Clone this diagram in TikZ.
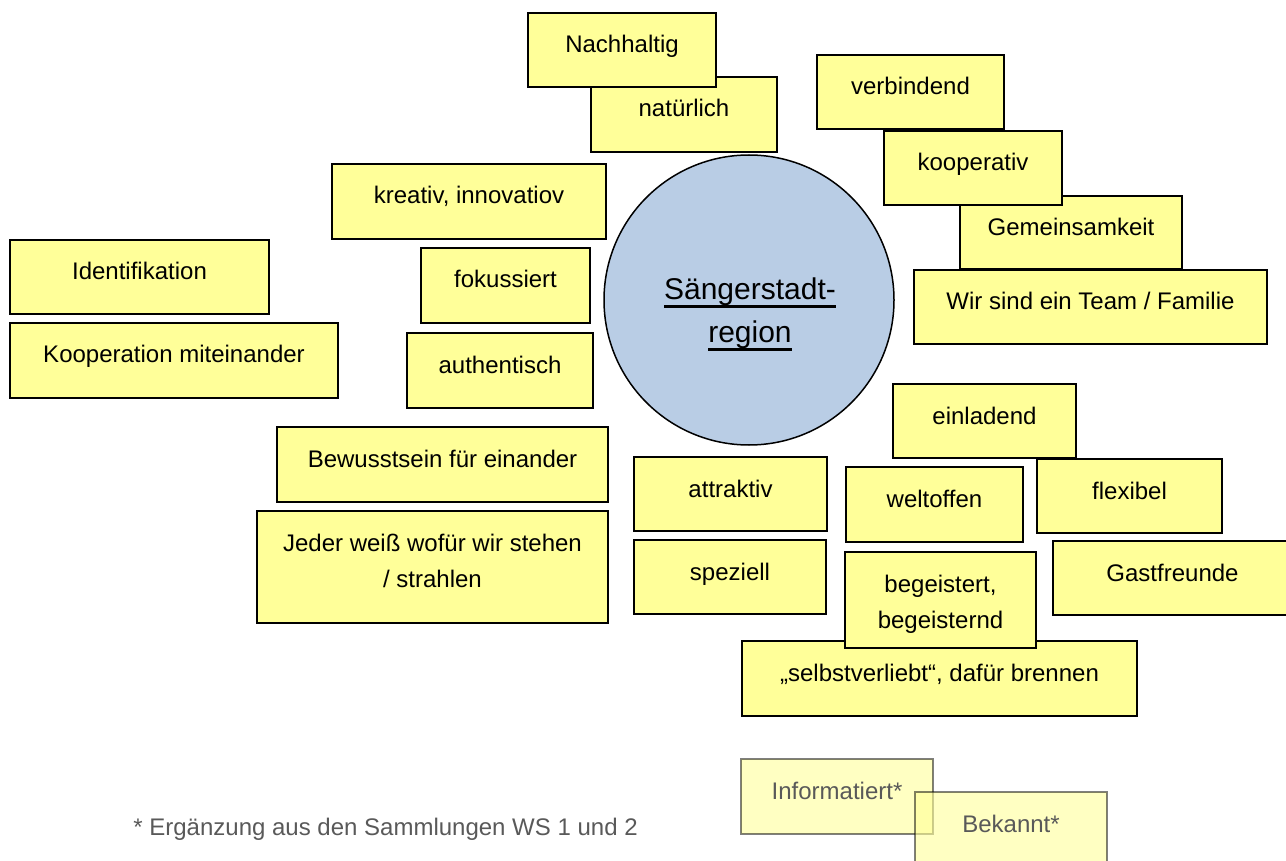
\documentclass[tikz,border=0pt]{standalone}
\usepackage{fontspec}
\setmainfont{Liberation Sans}
\definecolor{boxfill}{HTML}{FFFF99}
\definecolor{circfill}{HTML}{B9CDE5}
\newlength\ulwidth
\newcommand\ulx[1]{\settowidth\ulwidth{#1}\rlap{\rule[-3.8pt]{\ulwidth}{1.4pt}}#1}
\tikzset{
  pbox/.style={draw=black, fill=boxfill, line width=0.75pt, rectangle, inner sep=0pt, outer sep=0pt},
  ptxt/.style={anchor=base, align=center, inner sep=0pt, font=\fontsize{12}{18}\selectfont, text=black},
  faded/.style={draw opacity=0.5, fill opacity=0.6, text opacity=1, text=black!65},
  hub/.style={circle, draw=black, fill=circfill, line width=0.75pt, inner sep=0pt, minimum size=145pt},
  hubtxt/.style={anchor=base, align=center, inner sep=0pt, font=\fontsize{15}{21.5}\selectfont},
  note/.style={anchor=base west, inner sep=0pt, font=\fontsize{12}{14}\selectfont, text=black!65}
}
% #1 options, #2 name, #3 x1, #4 y1, #5 x2, #6 y2, #7 text, #8 offset of last baseline below top
\newcommand\pboxbase[8][]{%
  \node[pbox,#1,minimum width={(#5-#3)*0.5pt},minimum height={(#6-#4)*0.5pt}] (#2) at ({(#3+#5)/2},{(#4+#6)/2}) {};
  \node[ptxt,#1] (#2-t) at ({(#3+#5)/2},{#4+#8}) {#7};
}
\newcommand\pbox[7][]{\pboxbase[#1]{#2}{#3}{#4}{#5}{#6}{#7}{40}}
\newcommand\pboxtwo[7][]{\pboxbase[#1]{#2}{#3}{#4}{#5}{#6}{#7}{76}}
\begin{document}
\begin{tikzpicture}[x=0.5pt,y=-0.5pt]
\useasboundingbox (0,0) rectangle (1286,861);
% top
\pbox{natuerlich}{591}{77}{777}{152}{natürlich}
\pbox{nachhaltig}{528}{13}{716}{87}{Nachhaltig}
\pbox{verbindend}{817}{55}{1004}{129}{verbindend}
\pbox{gemeinsam}{960}{196}{1182}{269}{Gemeinsamkeit}
\pbox{kooperativ}{884}{131}{1062}{205}{kooperativ}
\pbox{team}{914}{270}{1267}{344}{Wir sind ein Team / Familie}
% left
\pbox{kreativ}{332}{164}{606}{239}{kreativ, innovatiov}
\pbox{ident}{10}{240}{269}{314}{Identifikation}
\pbox{koopmit}{10}{323}{338}{398}{Kooperation miteinander}
\pbox{fokus}{421}{248}{590}{323}{fokussiert}
\pbox{authent}{407}{333}{593}{408}{authentisch}
\pbox{bewusst}{277}{427}{608}{502}{Bewusstsein für einander}
\pboxtwo{jeder}{257}{511}{608}{623}{Jeder weiß wofür wir stehen\\/ strahlen}
% bottom middle
\pbox{attraktiv}{634}{457}{827}{531}{attraktiv}
\pbox{speziell}{634}{540}{826}{614}{speziell}
% right
\pbox{einladend}{893}{384}{1076}{458}{einladend}
\pbox{weltoffen}{846}{467}{1023}{542}{weltoffen}
\pbox{flexibel}{1037}{459}{1222}{533}{flexibel}
\pbox{gast}{1053}{541}{1292}{615}{Gastfreunde}
\pbox{selbst}{742}{641}{1137}{716}{„selbstverliebt“, dafür brennen}
\pboxtwo{begeistert}{845}{552}{1036}{648}{begeistert,\\begeisternd}
% hub
\node[hub] (hub) at (749,300) {};
\node[hubtxt] (hub-t) at (750,343) {\ulx{Sängerstadt-}\\\ulx{region}};
% faded additions
\pbox[faded]{informiert}{741}{759}{933}{834}{Informatiert*}
\pbox[faded]{bekannt}{915}{792}{1107}{868}{Bekannt*}
\node[note] (note) at (133,835) {* Ergänzung aus den Sammlungen WS 1 und 2};
\end{tikzpicture}
\end{document}
